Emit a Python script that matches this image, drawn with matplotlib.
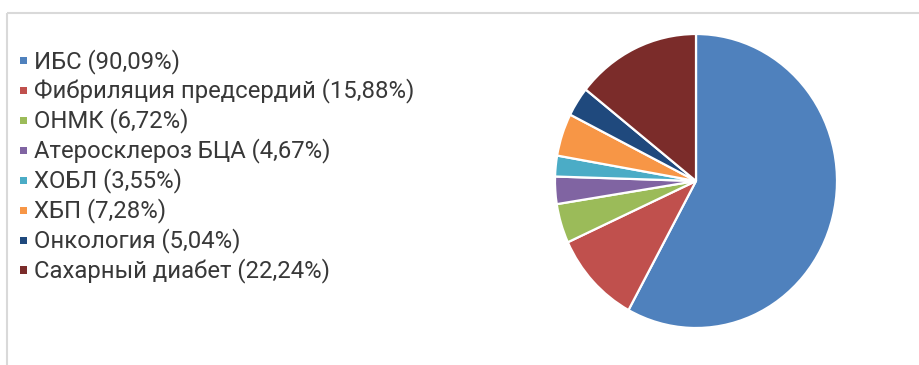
import matplotlib
matplotlib.use("Agg")
import matplotlib.pyplot as plt
from matplotlib.patches import Rectangle

# Diagnoses and their shares (%) as reported
labels = [
    "ИБС",
    "Фибриляция предсердий",
    "ОНМК",
    "Атеросклероз БЦА",
    "ХОБЛ",
    "ХБП",
    "Онкология",
    "Сахарный диабет",
]
shares = [90.09, 15.88, 6.72, 4.67, 3.55, 7.28, 5.04, 22.24]
colors = ["#4F81BD", "#C0504D", "#9BBB59", "#8064A2",
          "#4BACC6", "#F79646", "#1F497D", "#7B2C2A"]

plt.rcParams["font.family"] = ["Roboto", "DejaVu Sans"]

W, H = 919, 365
fig = plt.figure(figsize=(W / 100, H / 100), dpi=100)

# Pixel-space overlay for the frame and legend
bg = fig.add_axes([0, 0, 1, 1])
bg.set_xlim(0, W)
bg.set_ylim(H, 0)
bg.axis("off")
bg.add_patch(Rectangle((6.5, 12.5), W, H, fill=False,
                       edgecolor="#d9d9d9", linewidth=1.5))

base0, step = 68.0, 29.9
for i, (lab, val, col) in enumerate(zip(labels, shares, colors)):
    yb = base0 + i * step
    bg.add_patch(Rectangle((19.5, yb - 10.8), 7.2, 7.2, facecolor=col,
                           edgecolor="none"))
    txt = f"{lab} ({val:.2f}%)".replace(".", ",")
    bg.text(34.5, yb, txt, fontsize=17.2, color="#383838",
            va="baseline", ha="left")

# Pie chart
cx, cy, rx, ry = 696, 181, 141, 147
pax = fig.add_axes([(cx - rx) / W, (H - cy - ry) / H, 2 * rx / W, 2 * ry / H])
pax.pie(shares, colors=colors, startangle=90, counterclock=False,
        wedgeprops=dict(edgecolor="white", linewidth=1.6))
pax.set_aspect("auto")
pax.set_xlim(-1, 1)
pax.set_ylim(-1, 1)
pax.axis("off")

fig.savefig("out.png", dpi=100)
